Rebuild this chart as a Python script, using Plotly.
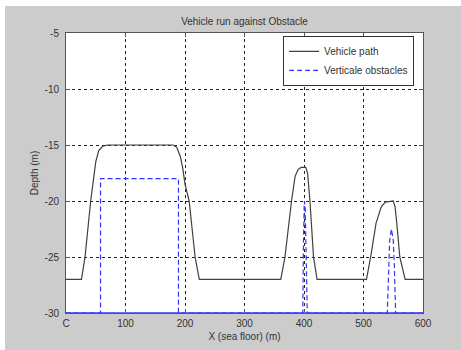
import plotly.graph_objects as go

# Vehicle path (x in m, depth in m)
path_x = [0, 26, 32, 41.5, 50, 55, 62, 70, 180, 186, 192, 196, 200, 207, 217, 224,
          361, 368, 379, 385, 390, 395, 403, 406, 410, 416, 422,
          505, 512, 521, 530, 537, 550, 553, 556, 561, 570, 600]
path_y = [-27, -27, -25, -20, -16.5, -15.5, -15.1, -15, -15, -15.2, -16, -17, -18.5, -20, -25, -27,
          -27, -25, -20, -17.8, -17.2, -17, -17, -17.5, -20, -25, -27,
          -27, -25, -22, -20.5, -20.1, -20, -20.5, -22, -25, -27, -27]

# Vertical obstacles
obs_x = [0, 58, 58, 189, 189, 398, 399, 400.5, 402, 404, 405.5,
         540, 542, 544, 547, 550, 552, 554, 600]
obs_y = [-30, -30, -18, -18, -30, -30, -24, -20, -20.5, -25, -30,
         -30, -26, -23.5, -22.5, -23.5, -26, -30, -30]

# Sea floor baseline
floor_x = [0, 600]
floor_y = [-30, -30]

x_ticks = [0, 100, 200, 300, 400, 500, 600]
x_ticklabels = ["C", "100", "200", "300", "400", "500", "600"]
y_ticks = [-30, -25, -20, -15, -10, -5]
y_ticklabels = ["-30", "-25", "-20", "-15", "-10", "-5"]

fig = go.Figure()
fig.add_trace(go.Scatter(x=floor_x, y=floor_y, mode="lines", showlegend=False,
                         line=dict(color="#6a6aff", width=2), hoverinfo="skip"))
fig.add_trace(go.Scatter(x=path_x, y=path_y, mode="lines", name="Vehicle path",
                         line=dict(color="#404040", width=1.2)))
fig.add_trace(go.Scatter(x=obs_x, y=obs_y, mode="lines", name="Verticale obstacles",
                         line=dict(color="#3333ff", width=1.2, dash="5px,3px")))

font_family = "Liberation Sans, Arial, sans-serif"
axis_common = dict(showline=True, linecolor="#555555", linewidth=1, mirror="ticks",
                   ticks="inside", ticklen=4, tickcolor="#555555",
                   showgrid=True, gridcolor="#222222", griddash="dot", gridwidth=1,
                   zeroline=False, layer="below traces", automargin=False,
                   tickfont=dict(size=10, color="#333333", family=font_family))

fig.update_layout(
    width=461, height=350,
    margin=dict(l=66, r=38, t=33, b=37),
    paper_bgcolor="#cccccc", plot_bgcolor="white",
    font=dict(family=font_family, size=10, color="#333333"),
    title=dict(text="Vehicle run against Obstacle", x=(66 + 423) / 2 / 461, xanchor="center",
               y=1 - 21 / 350, yanchor="middle", font=dict(size=10, color="#333333")),
    xaxis=dict(range=[0, 600], tickvals=x_ticks, ticktext=x_ticklabels,
               ticklabelstandoff=1,
               title=dict(text="X (sea floor) (m)", standoff=4, font=dict(size=10)),
               **axis_common),
    yaxis=dict(range=[-30, -5], tickvals=y_ticks, ticktext=y_ticklabels,
               ticklabelstandoff=4,
               title=dict(text="Depth (m)", standoff=4, font=dict(size=10)),
               **axis_common),
    legend=dict(x=0.975, xanchor="right", y=0.99, yanchor="top",
                bgcolor="white", bordercolor="#333333", borderwidth=1, itemwidth=30,
                font=dict(size=10, color="#333333"), tracegroupgap=0),
    shapes=[
        dict(type="rect", xref="paper", yref="paper", x0=-66 / 357, x1=(461 - 66) / 357,
             y0=1 + 27 / 280, y1=1 + 40 / 280, fillcolor="white", line=dict(width=0), layer="below"),
        dict(type="rect", xref="paper", yref="paper", x0=-70 / 357, x1=-61 / 357,
             y0=-40 / 280, y1=1 + 40 / 280, fillcolor="white", line=dict(width=0), layer="below"),
    ],
)

fig.write_html("out.html", config={"displayModeBar": False},
               post_script="document.body.style.margin='0';")
